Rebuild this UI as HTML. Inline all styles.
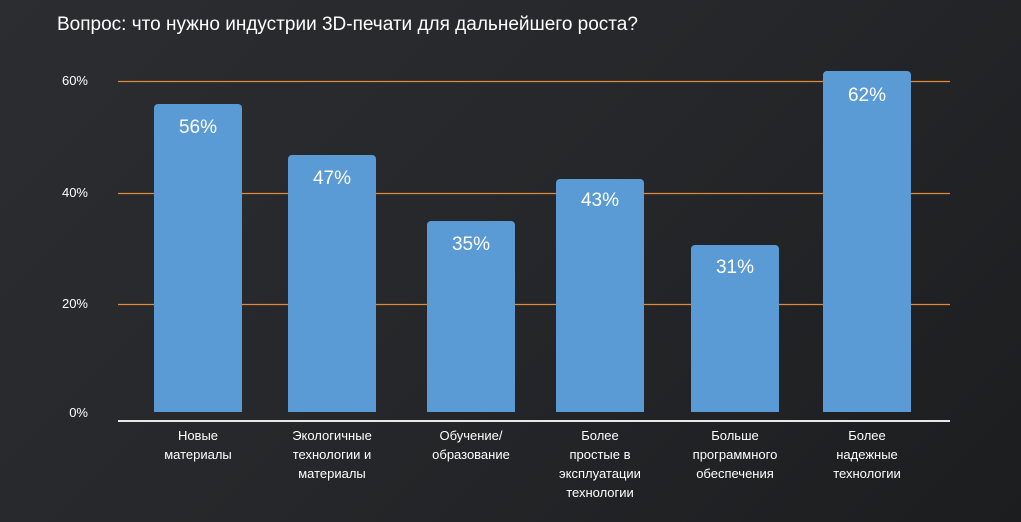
<!DOCTYPE html>
<html><head><meta charset="utf-8"><style>
body{margin:0;width:1021px;height:522px;overflow:hidden;background:linear-gradient(135deg,#2b2d31 0%,#25272a 50%,#1c1d1f 100%);font-family:"Liberation Sans","DejaVu Sans",sans-serif;color:#fff;position:relative}
.t{position:absolute;left:57px;top:14px;font-size:19px}
.yl{position:absolute;left:36px;font-size:13px;width:52px;text-align:right}
.b{position:absolute;width:88px;background:#5b9bd5;border-radius:4px 4px 0 0;bottom:110px}
.v{position:absolute;width:88px;text-align:center;font-size:19px}
.c{position:absolute;width:140px;text-align:center;font-size:13px;line-height:19px;top:426px}
</style></head><body>
<div class="t">Вопрос: что нужно индустрии 3D-печати для дальнейшего роста?</div>
<svg style="position:absolute;left:0;top:0" width="1021" height="522">
<line x1="118" x2="950" y1="81.5" y2="81.5" stroke="#e0893a" stroke-width="1.2"/>
<line x1="118" x2="950" y1="193.5" y2="193.5" stroke="#e0893a" stroke-width="1.2"/>
<line x1="118" x2="950" y1="304.5" y2="304.5" stroke="#e0893a" stroke-width="1.2"/>
</svg>
<div class="yl" style="top:73px">60%</div><div class="yl" style="top:185px">40%</div><div class="yl" style="top:296px">20%</div><div class="yl" style="top:405px">0%</div>
<div class="b" style="left:154px;top:104px"></div><div class="v" style="left:154px;top:117px">56%</div>
<div class="b" style="left:288px;top:155px"></div><div class="v" style="left:288px;top:168px">47%</div>
<div class="b" style="left:427px;top:221px"></div><div class="v" style="left:427px;top:234px">35%</div>
<div class="b" style="left:556px;top:179px"></div><div class="v" style="left:556px;top:190px">43%</div>
<div class="b" style="left:691px;top:245px"></div><div class="v" style="left:691px;top:257px">31%</div>
<div class="b" style="left:823px;top:71px"></div><div class="v" style="left:823px;top:85px">62%</div>
<div style="position:absolute;left:118px;top:420px;width:832px;height:2px;background:#e8e8e8"></div>
<div class="c" style="left:128px">Новые<br>материалы</div>
<div class="c" style="left:262px">Экологичные<br>технологии и<br>материалы</div>
<div class="c" style="left:401px">Обучение/<br>образование</div>
<div class="c" style="left:530px">Более<br>простые в<br>эксплуатации<br>технологии</div>
<div class="c" style="left:665px">Больше<br>программного<br>обеспечения</div>
<div class="c" style="left:797px">Более<br>надежные<br>технологии</div>
</body></html>
